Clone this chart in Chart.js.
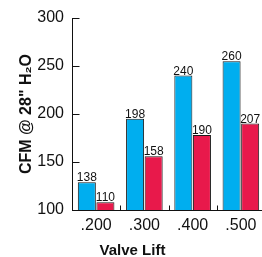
<!DOCTYPE html>
<html lang="en">
<head>
    <meta charset="UTF-8">
    <title>CFM vs Valve Lift</title>
    <script src="https://cdn.jsdelivr.net/npm/chart.js"></script>
    <style>
        html, body { margin: 0; padding: 0; overflow: hidden; background: #fff; }
        #grafico { width: 265px; height: 257px; display: block; }
    </style>
</head>
<body>
    <canvas id="grafico" width="265" height="257"></canvas>

    <script>
        // data
        const lifts = ['.200', '.300', '.400', '.500'];
        const blueBars = [129, 195, 240, 255];
        const redBars = [108, 156, 178, 190];
        const blueLabels = ['138', '198', '240', '260'];
        const redLabels = ['110', '158', '190', '207'];
        const yTicks = [100, 150, 200, 250, 300];

        Chart.defaults.font.family = '"Liberation Sans", Arial, Helvetica, sans-serif';
        Chart.defaults.color = '#111';

        // short tick marks pointing into the plot
        const innerTicks = {
            id: 'innerTicks',
            afterDraw(chart) {
                const ctx = chart.ctx;
                const x = chart.scales.x, y = chart.scales.y;
                const left = chart.chartArea.left + 0.5;
                const bottom = chart.chartArea.bottom + 0.5;
                ctx.save();
                ctx.strokeStyle = '#111';
                ctx.lineWidth = 1;
                ctx.beginPath();
                yTicks.forEach(v => {
                    const py = Math.round(y.getPixelForValue(v)) + 0.5;
                    ctx.moveTo(left, py);
                    ctx.lineTo(left + 7, py);
                });
                for (let i = 1; i < lifts.length; i++) {
                    const px = Math.round((x.getPixelForValue(i - 1) + x.getPixelForValue(i)) / 2) + 0.5;
                    ctx.moveTo(px, bottom);
                    ctx.lineTo(px, bottom - 5);
                }
                ctx.stroke();
                ctx.restore();
            }
        };

        // value text sitting on each bar
        const barLabels = {
            id: 'barLabels',
            afterDatasetsDraw(chart) {
                const ctx = chart.ctx;
                const sets = [blueLabels, redLabels];
                ctx.save();
                ctx.font = '12px "Liberation Sans", Arial, sans-serif';
                ctx.fillStyle = '#111';
                ctx.textAlign = 'center';
                ctx.textBaseline = 'alphabetic';
                sets.forEach((labels, d) => {
                    chart.getDatasetMeta(d).data.forEach((bar, i) => {
                        ctx.fillText(labels[i], bar.x, bar.y - 1);
                    });
                });
                ctx.restore();
            }
        };

        const ctx = document.getElementById('grafico').getContext('2d');
        new Chart(ctx, {
            type: 'bar',
            data: {
                labels: lifts,
                datasets: [{
                    data: blueBars,
                    backgroundColor: '#00aeef',
                    borderColor: '#1a1a1a',
                    borderWidth: 1,
                    borderSkipped: 'bottom'
                }, {
                    data: redBars,
                    backgroundColor: '#e8194b',
                    borderColor: '#1a1a1a',
                    borderWidth: 1,
                    borderSkipped: 'bottom'
                }]
            },
            options: {
                responsive: false,
                animation: false,
                categoryPercentage: 0.77,
                barPercentage: 0.97,
                layout: { padding: { top: 18, left: 0, right: 0, bottom: 0 } },
                plugins: {
                    legend: { display: false },
                    tooltip: { enabled: false },
                    title: {
                        display: true,
                        position: 'bottom',
                        text: 'Valve Lift',
                        color: '#111',
                        font: { size: 15, weight: 'bold', lineHeight: 1 },
                        padding: { top: 3, bottom: -1 }
                    }
                },
                scales: {
                    x: {
                        grid: { display: false, drawTicks: false },
                        border: { display: true, color: '#111', width: 1 },
                        ticks: { font: { size: 16 }, padding: 6, color: '#111' },
                        afterFit(scale) { scale.height = 30; }
                    },
                    y: {
                        min: 100,
                        max: 300,
                        grid: { display: false, drawTicks: false },
                        border: { display: true, color: '#111', width: 1 },
                        afterBuildTicks(scale) { scale.ticks = yTicks.map(v => ({ value: v })); },
                        ticks: { font: { size: 16 }, padding: 8, color: '#111' },
                        title: {
                            display: true,
                            text: 'CFM @ 28" H₂O',
                            color: '#111',
                            font: { size: 16, weight: 'bold' },
                            padding: { top: 17, bottom: 0 }
                        },
                        afterFit(scale) { scale.width = 72; }
                    }
                }
            },
            plugins: [innerTicks, barLabels]
        });
    </script>
</body>
</html>
